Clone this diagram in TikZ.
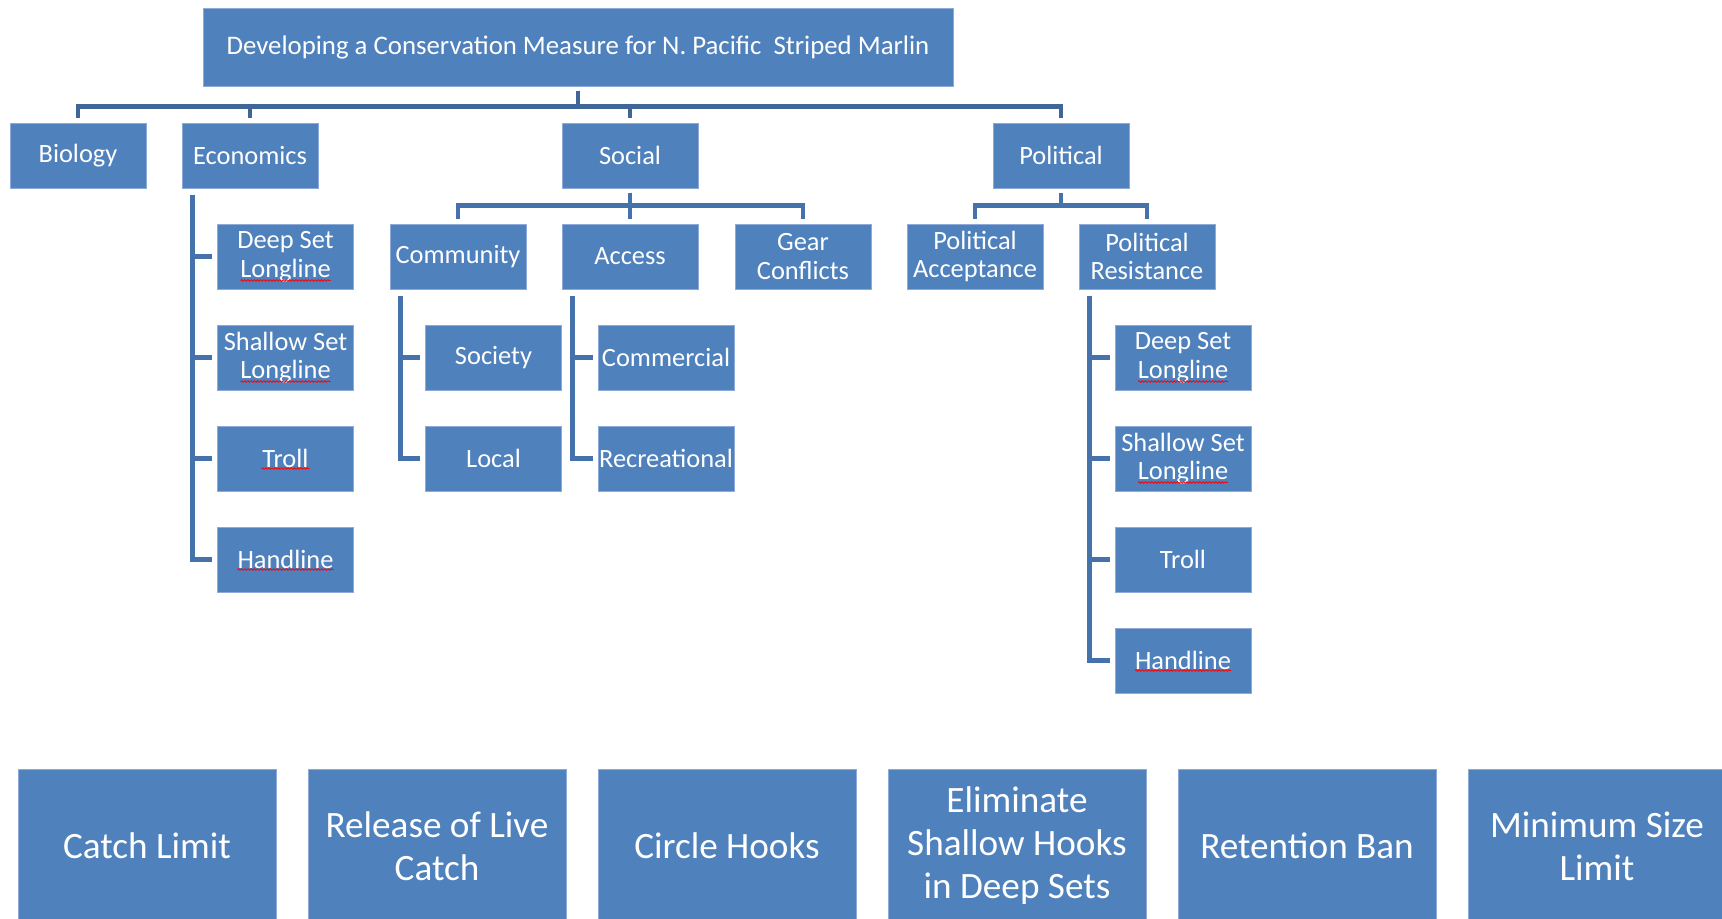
\documentclass[tikz,border=0pt]{standalone}
\usepackage{fontspec}
\setmainfont{Carlito}
\usetikzlibrary{calc,decorations.pathmorphing}

\definecolor{boxblue}{HTML}{4F81BD}
\definecolor{boxedge}{HTML}{8EAADB}
\definecolor{linkblue}{HTML}{4672AC}
\definecolor{topblue}{HTML}{3F6697}

\tikzset{
  box/.style={draw=boxedge, line width=0.5pt, fill=boxblue, text=white,
    minimum width=68pt, minimum height=32.5pt, inner sep=0pt, align=center,
    font=\fontsize{13.2}{14.3}\selectfont},
  bigbox/.style={box, minimum width=129pt, minimum height=77pt,
    font=\fontsize{18.6}{21.5}\selectfont},
  conn/.style={draw=linkblue, line width=2.3pt, shorten <=2pt, shorten >=2.5pt},
  topconn/.style={conn, draw=topblue},
  squig/.style={red, line width=0.4pt, decorate,
    decoration={snake, amplitude=0.4pt, segment length=1.6pt}}
}

\begin{document}
\begin{tikzpicture}[x=0.5pt, y=-0.5pt]
    \useasboundingbox (0,0) rectangle (1722,918);

    % top of the chart
    \node[box, minimum width=375pt, minimum height=39pt,
        font=\fontsize{13.4}{14.5}\selectfont] (goal) at (578, 47)
        {Developing a Conservation Measure for N. Pacific\ \ Striped Marlin};

    \node[box] (bio) at (78, 155.5) {Biology};
    \node[box] (eco) at (250, 155.5) {Economics};
    \node[box] (soc) at (630, 155.5) {Social};
    \node[box] (pol) at (1061, 155.5) {Political};

    \node[box] (comm) at (458, 256.5) {Community};
    \node[box] (acc) at (630, 256.5) {Access};
    \node[box] (gear) at (803, 256.5) {Gear\\Conflicts};
    \node[box] (pacc) at (975, 256.5) {Political\\Acceptance};
    \node[box] (pres) at (1147, 256.5) {Political\\Resistance};

    % gear types
    \node[box] (edeep) at (285.5, 256.5) {Deep Set\\Longline};
    \node[box] (eshal) at (285.5, 357.5) {Shallow Set\\Longline};
    \node[box] (etroll) at (285.5, 458.5) {Troll};
    \node[box] (ehand) at (285.5, 559.5) {Handline};

    \node[box] (soci) at (493.5, 357.5) {Society};
    \node[box] (loc) at (493.5, 458.5) {Local};
    \node[box] (comr) at (666, 357.5) {Commercial};
    \node[box] (recr) at (666, 458.5) {Recreational};

    \node[box] (pdeep) at (1183, 357.5) {Deep Set\\Longline};
    \node[box] (pshal) at (1183, 458.5) {Shallow Set\\Longline};
    \node[box] (ptroll) at (1183, 559.5) {Troll};
    \node[box] (phand) at (1183, 660.5) {Handline};

    % connectors
    \foreach \n in {bio,eco,soc,pol}
        \draw[topconn] (goal.south) -- ++(0,20) -| (\n.north);
    \foreach \n in {comm,acc,gear}
        \draw[conn] (soc.south) -- ++(0,17) -| (\n.north);
    \foreach \n in {pacc,pres}
        \draw[conn] (pol.south) -- ++(0,17) -| (\n.north);

    \foreach \n in {edeep,eshal,etroll,ehand}
        \draw[conn] (eco.south west) ++(11,2) |- (\n.west);
    \foreach \n in {soci,loc}
        \draw[conn] (comm.south west) ++(11,2) |- (\n.west);
    \foreach \n in {comr,recr}
        \draw[conn] (acc.south west) ++(11,2) |- (\n.west);
    \foreach \n in {pdeep,pshal,ptroll,phand}
        \draw[conn] (pres.south west) ++(11,2) |- (\n.west);

    % spell check marks
    \foreach \n in {edeep,eshal,pdeep,pshal}
        \draw[squig] ($(\n.center)+(-45,24)$) -- ++(90,0);
    \draw[squig] ($(etroll.center)+(-24,10)$) -- ++(48,0);
    \foreach \n in {ehand,phand}
        \draw[squig] ($(\n.center)+(-48,10)$) -- ++(96,0);

    % measures
    \foreach \t [count=\i from 0] in {Catch Limit, {Release of Live\\Catch},
        Circle Hooks, {Eliminate\\Shallow Hooks\\in Deep Sets}, Retention Ban,
        {Minimum Size\\Limit}}
        \node[bigbox] (act\i) at ({147+290*\i}, 846) {\t};
\end{tikzpicture}
\end{document}
